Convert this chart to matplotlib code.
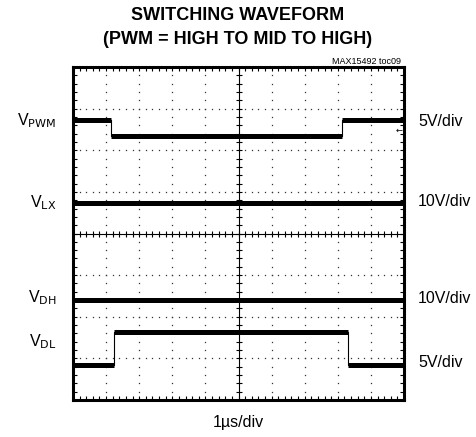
import numpy as np
import matplotlib
matplotlib.use('Agg')
import matplotlib.pyplot as plt

plt.rcParams['font.family'] = ['Liberation Sans Narrow', 'Liberation Sans', 'DejaVu Sans']
plt.rcParams['mathtext.fontset'] = 'custom'
plt.rcParams['mathtext.rm'] = 'Liberation Sans Narrow'

# Traces (time in divisions, level in divisions from the bottom of the screen)
pwm_t = [0, 1.14, 1.14, 8.14, 8.14, 10]
pwm_v = [6.72, 6.72, 6.35, 6.35, 6.72, 6.72]
lx_t = [0, 10]
lx_v = [4.74, 4.74]
dh_t = [0, 10]
dh_v = [2.40, 2.40]
dl_t = [0, 1.24, 1.24, 8.30, 8.30, 10]
dl_v = [0.84, 0.84, 1.63, 1.63, 0.84, 0.84]

names = ['PWM', 'LX', 'DH', 'DL']
scales = ['5V/div', '10V/div', '10V/div', '5V/div']
name_y = [6.72, 4.74, 2.45, 1.39]
scale_y = [6.7, 4.76, 2.45, 0.89]
trig_level = 6.47

n_x, n_y = 10, 8

fig = plt.figure(figsize=(4.76, 4.37), dpi=100)
ax = fig.add_axes([73/476, 1 - 400/437, 331/476, 333/437])
ax.set_xlim(0, n_x)
ax.set_ylim(0, n_y)

# dotted graticule
minor_x = np.arange(0, n_x + 0.001, 0.2)
minor_y = np.arange(0, n_y + 0.001, 0.2)
for gx in range(1, n_x):
    if gx == n_x // 2:
        continue
    ax.plot(np.full_like(minor_y, gx), minor_y, ls='none', marker='s', ms=0.9, color='#333333', mew=0)
for gy in range(1, n_y):
    if gy == n_y // 2:
        continue
    ax.plot(minor_x, np.full_like(minor_x, gy), ls='none', marker='s', ms=0.9, color='#333333', mew=0)

# centre cross with tick marks
ax.axhline(n_y / 2, color='black', lw=0.8)
ax.axvline(n_x / 2, color='black', lw=0.8)
ax.plot(minor_x, np.full_like(minor_x, n_y / 2), ls='none', marker='|', ms=4, mew=0.8, color='black')
ax.plot(np.full_like(minor_y, n_x / 2), minor_y, ls='none', marker='_', ms=4, mew=0.8, color='black')

# border ticks
ax.set_xticks(minor_x)
ax.set_yticks(minor_y)
ax.tick_params(direction='in', length=3, width=0.8, top=True, right=True,
               labelbottom=False, labelleft=False)
for s in ax.spines.values():
    s.set_linewidth(2.2)

# traces: thick flat parts, thin edges
for t, v in [(pwm_t, pwm_v), (lx_t, lx_v), (dh_t, dh_v), (dl_t, dl_v)]:
    ax.plot(t, v, color='black', lw=0.8)
    for i in range(len(t) - 1):
        if v[i] == v[i + 1]:
            ax.plot([t[i], t[i + 1]], [v[i], v[i + 1]], color='black', lw=3.6, solid_capstyle='butt')

ax.text(9.85, trig_level, '←', fontsize=6, ha='center', va='center', family='DejaVu Sans')

for nm, y in zip(names, name_y):
    ax.text(-0.5, y, r'V$_{\mathrm{%s}}$' % nm, fontsize=11.5, ha='right', va='center', clip_on=False)
for sc, y in zip(scales, scale_y):
    ax.text(10.42, y, sc, fontsize=11.5, ha='left', va='center', clip_on=False)

fig.text(0.5, 1 - 15.5/437, 'SWITCHING WAVEFORM', fontsize=13, fontweight='bold', ha='center', va='center')
fig.text(0.5, 1 - 40/437, '(PWM = HIGH TO MID TO HIGH)', fontsize=13, fontweight='bold', ha='center', va='center')
fig.text(401/476, 1 - 61/437, 'MAX15492 toc09', fontsize=6.5, ha='right', va='center')
fig.text(238/476, 1 - 422/437, '1µs/div', fontsize=11.5, ha='center', va='center')

fig.savefig('out.png', dpi=100)
